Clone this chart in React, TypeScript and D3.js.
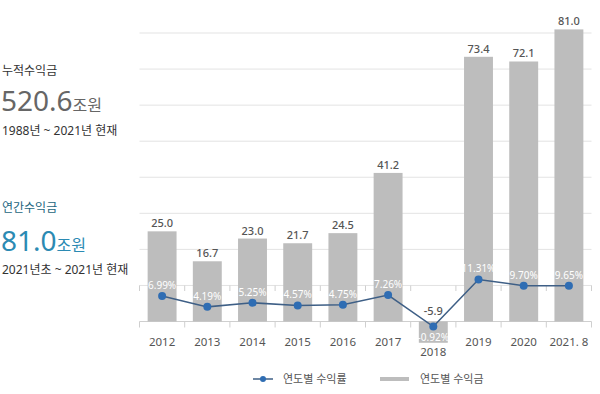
import React from "react";
import * as d3 from "d3";

const years = ["2012", "2013", "2014", "2015", "2016", "2017", "2018", "2019", "2020", "2021. 8"];
const amounts = [25.0, 16.7, 23.0, 21.7, 24.5, 41.2, -5.9, 73.4, 72.1, 81.0];
const rates = [6.99, 4.19, 5.25, 4.57, 4.75, 7.26, -0.92, 11.31, 9.70, 9.65];
const gridValues = [0, 10, 20, 30, 40, 50, 60, 70, 80];

const FONT = "'Noto Sans', 'Noto Sans CJK KR', sans-serif";

export default function App() {
  const width = 600, height = 394;

  const x = d3.scaleBand<string>()
    .domain(years)
    .range([139.5, 591.5])
    .paddingInner(0.36)
    .paddingOuter(0.18);

  const y = d3.scaleLinear().domain([0, 80]).range([321.5, 33]);
  const yRate = d3.scaleLinear().domain([0, 10]).range([323, 284.5]);

  const cx = (d: string) => (x(d) as number) + x.bandwidth() / 2;
  const step = x.step();
  const boundaries = d3.range(years.length + 1).map(i => 139.5 + i * step);

  const line = d3.line<number>()
    .x((_, i) => cx(years[i]))
    .y(d => yRate(d));

  return (
    <svg width={width} height={height} style={{ position: "fixed", left: 0, top: 0, background: "#fff", fontFamily: FONT }}>
      {/* left side summary */}
      <text x={2} y={75} fontSize={12} fill="#333">누적수익금</text>
      <text x={1} y={111} fill="#666">
        <tspan fontSize={28}>520.6</tspan>
        <tspan fontSize={16}>조원</tspan>
      </text>
      <text x={2} y={135} fontSize={12} fill="#333">1988년 ~ 2021년 현재</text>

      <text x={2} y={212} fontSize={12} fill="#1d6680">연간수익금</text>
      <text x={1} y={251} fill="#2b8ab3">
        <tspan fontSize={28}>81.0</tspan>
        <tspan fontSize={16}>조원</tspan>
      </text>
      <text x={2} y={274} fontSize={12} fill="#333">2021년초 ~ 2021년 현재</text>

      {/* grid */}
      {gridValues.map(v => (
        <line key={v} x1={139.5} x2={591.5} y1={y(v)} y2={y(v)} stroke={v === 0 ? "#cfcfcf" : "#e3e3e3"} strokeWidth={1} />
      ))}
      <line x1={139.5} x2={591.5} y1={285.5} y2={285.5} stroke="#e3e3e3" />
      {boundaries.map((b, i) => (
        <g key={i}>
          <line x1={b} x2={b} y1={285.5} y2={291} stroke="#cfcfcf" />
          <line x1={b} x2={b} y1={y(0)} y2={y(0) + 6} stroke="#cfcfcf" />
        </g>
      ))}

      {/* bars */}
      {amounts.map((v, i) => (
        <rect key={years[i]} x={x(years[i])} width={x.bandwidth()}
          y={Math.min(y(v), y(0))} height={Math.abs(y(v) - y(0))} fill="#bdbdbd" />
      ))}

      {/* bar values */}
      {amounts.map((v, i) => (
        <text key={"a" + i} x={cx(years[i])} y={v >= 0 ? y(v) - 4 : y(0) - 7}
          textAnchor="middle" fontSize={11} fontWeight={500} fill="#555">{v.toFixed(1)}</text>
      ))}

      {/* year labels */}
      {years.map((d, i) => (
        <text key={"y" + d} x={cx(d)} y={amounts[i] >= 0 ? 346 : Math.max(y(amounts[i]) + 13, 346)}
          textAnchor="middle" fontSize={11.5} fill="#555">{d}</text>
      ))}

      {/* rate line */}
      <path d={line(rates) as string} fill="none" stroke="#3e5f86" strokeWidth={1.5} />
      {rates.map((r, i) => (
        <circle key={"c" + i} cx={cx(years[i])} cy={yRate(r)} r={4} fill="#2f6db3" />
      ))}
      {rates.map((r, i) => (
        <text key={"r" + i} x={cx(years[i])} y={r >= 0 ? yRate(r) - 7 : yRate(r) + 14}
          textAnchor="middle" fontSize={10} fill="#fff">{r.toFixed(2) + "%"}</text>
      ))}

      {/* legend */}
      <line x1={253} x2={273} y1={379} y2={379} stroke="#3e5f86" strokeWidth={1.5} />
      <circle cx={263} cy={379} r={3} fill="#2f6db3" />
      <text x={283} y={383} fontSize={11} fill="#555">연도별 수익률</text>
      <rect x={380} y={377} width={29} height={4} fill="#bdbdbd" />
      <text x={420} y={383} fontSize={11} fill="#555">연도별 수익금</text>
    </svg>
  );
}
